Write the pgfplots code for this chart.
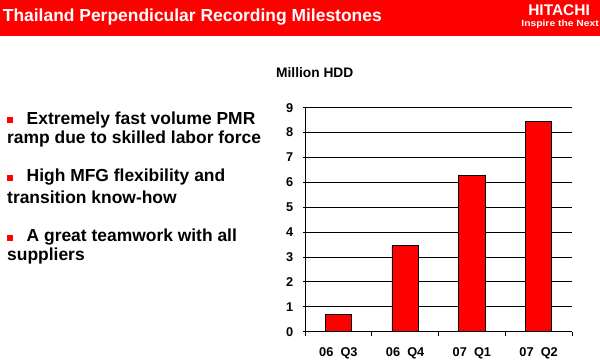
\documentclass[border=0pt]{standalone}
\usepackage{pgfplots}
\pgfplotsset{compat=1.18}
\usepackage{fontspec}
\setmainfont{Liberation Sans}
\definecolor{hred}{RGB}{255,0,0}
\begin{document}
\begin{tikzpicture}[x=1bp,y=1bp]
\path[use as bounding box] (0,0) rectangle (600,-360);
\fill[hred] (0,0) rectangle (600,-36);
\node[anchor=base west, inner sep=0pt, text=white, font=\fontsize{17.5}{20}\selectfont\bfseries] at (2.7,-21) {Thailand Perpendicular Recording Milestones};
\node[anchor=base east, inner sep=0pt, text=white, font=\fontsize{15.5}{18}\selectfont\bfseries] at (590,-15.7) {HITACHI};
\node[anchor=base east, inner sep=0pt, text=white, font=\fontsize{9}{10}\selectfont\bfseries, xscale=1.15] at (599,-26) {Inspire the Next};
% bullets
\fill[hred] (7.3,-116.7) rectangle (13.3,-122.7);
\fill[hred] (7.3,-175) rectangle (13.3,-181);
\fill[hred] (7.3,-235) rectangle (13.3,-241);
\begin{scope}[every node/.style={anchor=base west, inner sep=0pt, font=\fontsize{17.5}{20}\selectfont\bfseries}]
\node at (26.5,-124) {Extremely fast volume PMR};
\node at (7,-143.3) {ramp due to skilled labor force};
\node at (26.5,-181.7) {High MFG flexibility and};
\node at (7,-203) {transition know-how};
\node at (26.5,-241.3) {A great teamwork with all};
\node at (7,-260.5) {suppliers};
\end{scope}
\node[anchor=base west, inner sep=0pt, font=\fontsize{13.8}{15}\selectfont\bfseries] at (276,-77.3) {Million HDD};
\begin{axis}[
  at={(305bp,-331.7bp)}, anchor=south west,
  width=267bp, height=224bp, scale only axis,
  xmin=-0.5, xmax=3.5, ymin=0, ymax=9,
  ytick={0,...,9},
  xtick={0,1,2,3},
  xticklabels={06~~Q3,06~~Q4,07~~Q1,07~~Q2},
  minor xtick={-0.5,0.5,1.5,2.5,3.5},
  axis lines*=left,
  axis line style={black, line width=0.9bp},
  ymajorgrids,
  grid style={black, line width=0.9bp},
  tick align=outside,
  major tick length=2.5bp,
  minor tick length=4.3bp,
  tick style={black, line width=0.9bp},
  major x tick style={draw=none},
  /pgf/number format/assume math mode=true,
  tick label style={font=\fontsize{12.8}{14}\selectfont\bfseries},
  yticklabel style={anchor=east, inner sep=0pt, xshift=-9bp},
  xticklabel style={anchor=north, inner sep=0pt, yshift=-13bp},
]
\addplot[ybar, bar width=26.4bp, fill=hred, draw=black, line width=0.7bp] coordinates {(0,0.7) (1,3.47) (2,6.27) (3,8.45)};
\end{axis}
\end{tikzpicture}
\end{document}
